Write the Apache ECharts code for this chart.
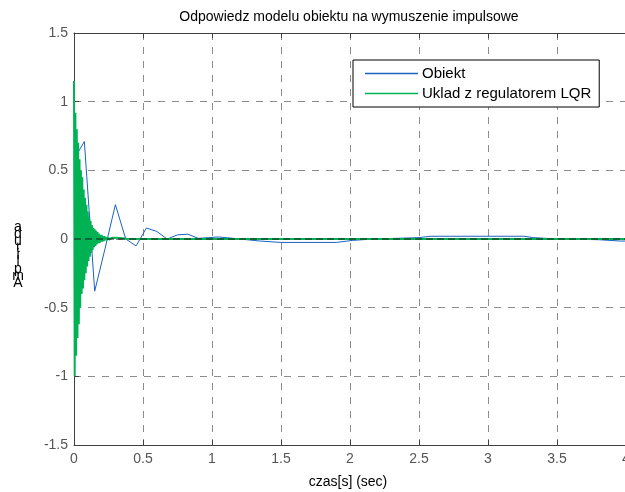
<!DOCTYPE html>
<html>
<head>
<meta charset="utf-8">
<script src="https://cdn.jsdelivr.net/npm/echarts@6/dist/echarts.min.js"></script>
<style>
  html, body { margin: 0; padding: 0; background: #fff; }
  #chart { width: 625px; height: 492px; }
</style>
</head>
<body>
<div id="chart"></div>
<script>
// odpowiedz obiektu (t, y)
const obiektPts = [
  [0, 0.58], [0.075, 0.71], [0.15, -0.38], [0.225, -0.07], [0.3, 0.25],
  [0.375, 0.0], [0.45, -0.05], [0.525, 0.08], [0.6, 0.055], [0.675, 0.0],
  [0.75, 0.03], [0.825, 0.035], [0.9, 0.005], [0.975, 0.01], [1.05, 0.015],
  [1.2, 0.0], [1.35, -0.015], [1.5, -0.025], [1.9, -0.025], [2.02, -0.01],
  [2.17, 0.0], [2.34, 0.005], [2.5, 0.01], [2.58, 0.02], [3.26, 0.02],
  [3.33, 0.01], [3.5, 0.0], [3.8, -0.005], [3.96, -0.015], [4.0, -0.015]
];

// uklad z LQR - probki co 0.005 s w poczatkowym odcinku
const lqrStep = 0.005;
const lqrAmp = [
  1.15, -1.0, 0.92, -0.85, 0.8, -0.72, 0.7, -0.62, 0.58, -0.5,
  0.5, -0.4, 0.45, -0.36, 0.36, -0.3, 0.3, -0.25, 0.25, -0.2,
  0.2, -0.16, 0.16, -0.13, 0.13, -0.1, 0.1, -0.08, 0.08, -0.06,
  0.07, -0.05, 0.06, -0.04, 0.05, -0.03, 0.04, -0.03, 0.03, -0.02,
  0.03, -0.02, 0.02, -0.015, 0.02, -0.01, 0.015, -0.01, 0.01, -0.005,
  0.01, -0.005, 0.008, -0.004, 0.006, 0.004, 0.006, 0.01, 0.014, 0.016
];
// dalszy przebieg
const lqrTail = [
  [0.3, 0.017], [0.33, 0.008], [0.38, 0.002], [0.5, 0.0], [1.0, 0.0], [4.0, 0.0]
];

const xTicks = { min: 0, max: 4, interval: 0.5 };
const yTicks = { min: -1.5, max: 1.5, interval: 0.5 };

const seriesNames = ["Obiekt", "Uklad z regulatorem LQR"];

var lqrPts = lqrAmp.map((v, i) => [i * lqrStep, v]).concat(lqrTail);

var myChart = echarts.init(document.getElementById("chart"), null, {
  renderer: "canvas",
});

var font = "Liberation Sans, Arial, Helvetica, sans-serif";
var axisColor = "#404040";
var gridLine = {
  show: true,
  lineStyle: { color: "#8c8c8c", type: [7, 7], width: 1 },
};

var option = {
  animation: false,
  backgroundColor: "#fff",
  textStyle: { fontFamily: font },
  grid: {
    left: 74,
    top: 33,
    right: -1,
    bottom: 47,
    containLabel: false,
    outerBoundsMode: "none",
  },
  legend: {
    data: seriesNames,
    orient: "vertical",
    left: 353,
    top: 60,
    backgroundColor: "#fff",
    borderColor: "#000",
    borderWidth: 1,
    borderRadius: 0,
    padding: [6, 8, 6, 12],
    itemGap: 5,
    itemWidth: 53,
    itemHeight: 1.5,
    icon: "rect",
    textStyle: { fontSize: 15, color: "#000", fontFamily: font, padding: [0, 0, 0, -1] },
  },
  xAxis: [
    {
      type: "value",
      min: xTicks.min,
      max: xTicks.max,
      interval: xTicks.interval,
      axisLine: { show: true, onZero: false, lineStyle: { color: axisColor } },
      axisTick: { show: true, inside: true, length: 5, lineStyle: { color: axisColor } },
      axisLabel: { color: "#555", fontSize: 14, margin: 7, fontFamily: font },
      splitLine: gridLine,
    },
    {
      type: "value",
      position: "top",
      min: xTicks.min,
      max: xTicks.max,
      interval: xTicks.interval,
      axisLine: { show: true, onZero: false, lineStyle: { color: axisColor } },
      axisTick: { show: true, inside: true, length: 5, lineStyle: { color: axisColor } },
      axisLabel: { show: false },
      splitLine: { show: false },
    },
  ],
  yAxis: {
    type: "value",
    min: yTicks.min,
    max: yTicks.max,
    interval: yTicks.interval,
    axisLine: { show: true, onZero: false, lineStyle: { color: axisColor } },
    axisTick: { show: true, inside: true, length: 5, lineStyle: { color: axisColor } },
    axisLabel: { color: "#555", fontSize: 14, margin: 6, fontFamily: font },
    splitLine: gridLine,
  },
  graphic: [
    {
      type: "text",
      x: 349,
      y: 17,
      style: {
        text: "Odpowiedz modelu obiektu na wymuszenie impulsowe",
        font: "14px " + font,
        fill: "#000",
        align: "center",
        verticalAlign: "middle",
      },
    },
    {
      type: "text",
      x: 348,
      y: 482,
      style: {
        text: "czas[s] (sec)",
        font: "14px " + font,
        fill: "#000",
        align: "center",
        verticalAlign: "middle",
      },
    },
    {
      type: "text",
      x: 18,
      y: 255,
      style: {
        text: "a\nd\nu\nt\ni\nl\np\nm\nA",
        font: "14px " + font,
        lineHeight: 7,
        fill: "#000",
        align: "center",
        verticalAlign: "middle",
      },
    },
  ],
  series: [
    {
      name: seriesNames[0],
      type: "line",
      data: obiektPts,
      showSymbol: false,
      symbol: "none",
      color: "#1a63c0",
      lineStyle: { width: 1, color: "#1a63c0" },
      z: 3,
    },
    {
      name: seriesNames[1],
      type: "line",
      data: lqrPts,
      showSymbol: false,
      symbol: "none",
      color: "#00b253",
      lineStyle: { width: 2, color: "#00b253" },
      z: 4,
    },
    {
      name: "zero",
      type: "line",
      data: [[xTicks.min, 0], [xTicks.max, 0]],
      showSymbol: false,
      symbol: "none",
      silent: true,
      lineStyle: { width: 1, color: "#1a1a1a", type: [7, 4] },
      z: 5,
    },
  ],
};

myChart.setOption(option);
window.addEventListener("resize", function () {
  myChart.resize();
});
</script>
</body>
</html>
